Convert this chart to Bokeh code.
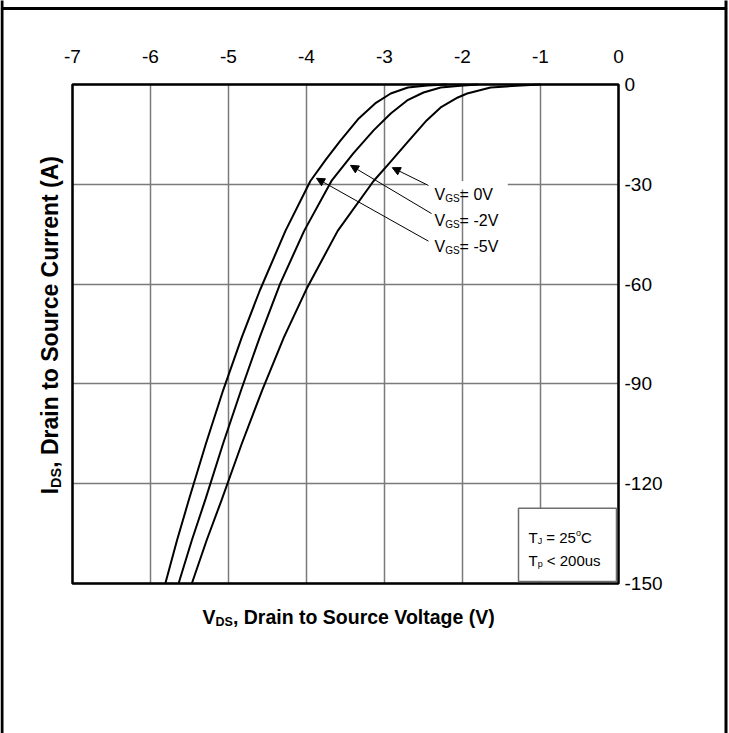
from math import pi

from bokeh.embed import file_html
from bokeh.models import (Arrow, BoxAnnotation, FixedTicker, Grid, Label, LinearAxis,
                          NormalHead, Range1d)
from bokeh.plotting import figure
from bokeh.resources import INLINE

# Axis ticks
vds_ticks = [-7, -6, -5, -4, -3, -2, -1, 0]
ids_ticks = [0, -30, -60, -90, -120, -150]

# Output characteristics, one curve per gate voltage
vds_vgs_m5 = [-5.81, -5.66, -5.51, -5.29, -5.07, -4.83, -4.60, -4.27, -3.95, -3.75, -3.57, -3.33, -3.12, -2.92, -2.70, -2.45, -2.20]
ids_vgs_m5 = [-150, -137, -125, -108, -92, -76, -62, -44, -29, -22.5, -17, -10.2, -5.7, -2.7, -0.9, -0.3, 0]

vds_vgs_m2 = [-5.64, -5.47, -5.30, -5.07, -4.84, -4.60, -4.34, -4.03, -3.68, -3.40, -3.14, -2.92, -2.71, -2.50, -2.28, -1.99, -1.80]
ids_vgs_m2 = [-150, -137, -125, -108, -92, -76, -60, -44, -29, -20.7, -13.8, -8.7, -4.8, -2.4, -0.9, -0.3, 0]

vds_vgs_0 = [-5.47, -5.28, -5.09, -4.83, -4.57, -4.29, -3.99, -3.60, -3.14, -2.94, -2.71, -2.46, -2.28, -2.06, -1.94, -1.64, -1.25, -1.00]
ids_vgs_0 = [-150, -137, -125, -108, -92, -76, -61, -44, -29, -23.7, -17.5, -10.8, -6.9, -3.9, -2.7, -0.9, -0.3, 0]

FONT = "Liberation Sans"

# Page geometry (pixels): chart box inside the drawing area
WIDTH, HEIGHT = 729, 733
M_LEFT, M_RIGHT, M_TOP, M_BOTTOM = 72, 111, 84, 150
V_MIN, V_MAX = vds_ticks[0], vds_ticks[-1]
I_MIN, I_MAX = ids_ticks[-1], ids_ticks[0]
px_per_v = (WIDTH - M_LEFT - M_RIGHT) / (V_MAX - V_MIN)
px_per_a = (HEIGHT - M_TOP - M_BOTTOM) / (I_MAX - I_MIN)

# Arial-compatible advance widths (per 1000 em) for the pieces that precede others
W_REG = {" ": 278, "-": 333, "0": 556, "2": 556, "5": 556, "=": 584, "<": 584,
         "V": 667, "G": 778, "S": 667, "T": 611, "J": 500, "p": 556, "o": 556}
W_BOLD = {"V": 667, "I": 278, "D": 722, "S": 667}


def advance(text, size, bold):
    table = W_BOLD if bold else W_REG
    return sum(table.get(c, 556) for c in text) * size / 1000.0


def add_run(plot, x, y, pieces, angle=0.0):
    """Draw a run of text pieces (with sub/superscripts) starting at (x, y)."""
    adv = 0.0
    for text, size, drop, bold in pieces:
        lead = len(text) - len(text.lstrip(" "))
        adv += advance(" " * lead, size, bold)
        text = text.lstrip(" ")
        kw = dict(x=x, y=y, text=text, text_font=FONT, text_font_size=f"{size}px",
                  text_font_style="bold" if bold else "normal", text_color="black",
                  text_align="left", text_baseline="alphabetic")
        if angle:
            kw.update(angle=angle, x_offset=drop, y_offset=adv)
        else:
            kw.update(x_offset=adv, y_offset=-drop)
        plot.add_layout(Label(**kw))
        adv += advance(text, size, bold)


x_range = Range1d(V_MIN - M_LEFT / px_per_v, V_MAX + M_RIGHT / px_per_v)
y_range = Range1d(I_MIN - M_BOTTOM / px_per_a, I_MAX + M_TOP / px_per_a)

p = figure(width=WIDTH, height=HEIGHT, x_range=x_range, y_range=y_range,
           x_axis_location=None, y_axis_location=None,
           output_backend="svg", toolbar_location=None,
           min_border=0, min_border_left=0, min_border_right=0,
           min_border_top=0, min_border_bottom=0)
p.background_fill_color = "white"
p.border_fill_color = "white"
p.outline_line_color = None
p.center = []

# Grid limited to the chart box
p.add_layout(Grid(dimension=0, ticker=FixedTicker(ticks=vds_ticks),
                  bounds=(V_MIN, V_MAX), cross_bounds=(I_MIN, I_MAX),
                  grid_line_color="#7a7a7a", grid_line_width=1.5))
p.add_layout(Grid(dimension=1, ticker=FixedTicker(ticks=ids_ticks),
                  bounds=(I_MIN, I_MAX), cross_bounds=(V_MIN, V_MAX),
                  grid_line_color="#7a7a7a", grid_line_width=1.5))

# Axes pinned to the top and right edges of the chart box
xa = LinearAxis(fixed_location=I_MAX)
ya = LinearAxis(fixed_location=V_MAX)
for ax, ticks, standoff in ((xa, vds_ticks, 22), (ya, ids_ticks, 6)):
    ax.ticker = FixedTicker(ticks=ticks)
    ax.major_label_overrides = {t: str(t) for t in ticks}
    ax.axis_line_color = None
    ax.major_tick_line_color = None
    ax.minor_tick_line_color = None
    ax.major_tick_out = 0
    ax.major_tick_in = 0
    ax.minor_tick_out = 0
    ax.major_label_standoff = standoff
    ax.major_label_text_font = FONT
    ax.major_label_text_font_size = "19px"
    ax.major_label_text_color = "black"
p.add_layout(xa, "above")
p.add_layout(ya, "right")

# Curves
for xs, ys in ((vds_vgs_m5, ids_vgs_m5), (vds_vgs_m2, ids_vgs_m2), (vds_vgs_0, ids_vgs_0)):
    p.line(xs, ys, line_color="black", line_width=2, line_join="round")

# Chart box outline
p.add_layout(BoxAnnotation(left=V_MIN, right=V_MAX, top=I_MAX, bottom=I_MIN,
                           fill_alpha=0, line_color="black", line_alpha=1, line_width=2.5))

# Curve callouts
p.add_layout(BoxAnnotation(left=-2.47, right=-1.42, top=-29.0, bottom=-31.6,
                           fill_color="white", fill_alpha=1, line_color=None))
arrows = [((-2.436, -30.36), (-2.90, -25.0)),
          ((-2.397, -38.8), (-3.436, -24.3)),
          ((-2.436, -47.1), (-3.872, -28.2))]
for (x0, y0), (x1, y1) in arrows:
    p.add_layout(Arrow(x_start=x0, y_start=y0, x_end=x1, y_end=y1,
                       line_color="black", line_width=1,
                       end=NormalHead(size=8, fill_color="black", line_color="black", line_width=1)))

for label_y, vgs in ((-33.2, "= 0V"), (-41.0, "= -2V"), (-48.7, "= -5V")):
    add_run(p, -2.359, label_y, [("V", 16, 0, False), ("GS", 10, 4, False), (vgs, 16, 0, False)])

# Test-condition box
p.add_layout(BoxAnnotation(left=-1.282, right=-0.026, top=-127.4, bottom=-149.4,
                           fill_color="white", fill_alpha=1,
                           line_color="#6e6e6e", line_alpha=1, line_width=1.5))
add_run(p, -1.154, -136.3, [("T", 15, 0, False), ("J", 9, 3.5, False), (" = 25", 15, 0, False),
                            ("o", 9, -5, False), ("C", 15, 0, False)])
add_run(p, -1.154, -143.2, [("T", 15, 0, False), ("p", 9, 3.5, False), (" < 200us", 15, 0, False)])

# Axis titles
add_run(p, -5.333, -160.2, [("V", 19.5, 0, True), ("DS", 12.5, 5, True),
                            (", Drain to Source Voltage (V)", 19.5, 0, True)])
add_run(p, -7.288, -123.2, [("I", 23, 0, True), ("DS", 14.5, 5.5, True),
                            (", Drain to Source Current (A)", 23, 0, True)], angle=pi / 2)

# Cell border around the chart
for top, bottom in ((8, 760), (-20, 8)):
    p.add_layout(BoxAnnotation(left=1.5, right=725.5, top=top, bottom=bottom,
                               left_units="canvas", right_units="canvas",
                               top_units="canvas", bottom_units="canvas",
                               fill_alpha=0, line_color="black", line_alpha=1, line_width=3))

open("out.html", "w").write(file_html(p, INLINE))
